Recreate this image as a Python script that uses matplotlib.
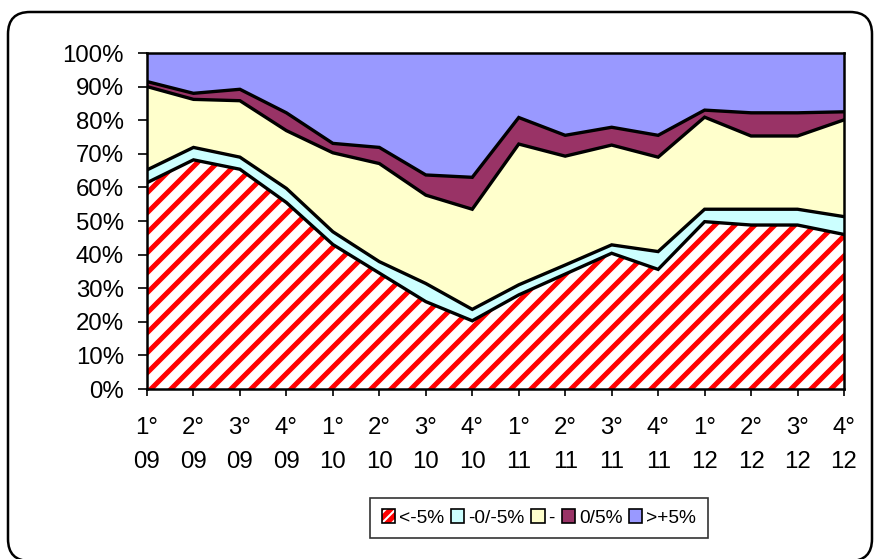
import numpy as np
import matplotlib
matplotlib.use("Agg")
import matplotlib.pyplot as plt
from matplotlib.patches import Patch, FancyBboxPatch
from matplotlib.legend_handler import HandlerTuple
from matplotlib.transforms import IdentityTransform

plt.rcParams['font.family'] = ['Liberation Sans', 'DejaVu Sans']
plt.rcParams['hatch.linewidth'] = 3.0

# quarters
labels = ['1°\n09', '2°\n09', '3°\n09', '4°\n09',
          '1°\n10', '2°\n10', '3°\n10', '4°\n10',
          '1°\n11', '2°\n11', '3°\n11', '4°\n11',
          '1°\n12', '2°\n12', '3°\n12', '4°\n12']

# share of each class (%)
neg5 = [61.4, 68.2, 65.4, 55.5, 43.0, 34.5, 26.0, 20.3, 28.0, 34.2, 40.4, 35.6, 49.8, 48.8, 48.8, 46.0]
neg0 = [3.8, 3.7, 3.6, 4.2, 3.8, 3.4, 5.4, 3.4, 3.0, 2.7, 2.5, 5.3, 3.7, 4.7, 4.7, 5.3]
zero = [24.8, 14.3, 16.8, 17.2, 23.5, 29.2, 26.3, 29.8, 41.9, 32.4, 29.7, 28.1, 27.4, 21.8, 21.8, 28.8]
pos0 = [1.5, 1.8, 3.4, 5.3, 2.8, 4.8, 6.0, 9.5, 7.9, 6.2, 5.3, 6.5, 2.1, 6.9, 6.9, 2.4]
pos5 = [8.5, 12.0, 10.8, 17.8, 26.9, 28.1, 36.3, 37.0, 19.2, 24.5, 22.1, 24.5, 17.0, 17.8, 17.8, 17.5]

names = ['<-5%', '-0/-5%', '-', '0/5%', '>+5%']
colors = ['white', '#CCFFFF', '#FFFFCC', '#993366', '#9999FF']

x = np.arange(len(labels))
series = [neg5, neg0, zero, pos0, pos5]

fig = plt.figure(figsize=(877 / 120, 559 / 120), dpi=120)
ax = fig.add_axes([147 / 877, 1 - 389 / 559, (844 - 147) / 877, (389 - 53) / 559])

polys = ax.stackplot(x, *series, colors=colors, linewidth=0)
polys[0].set_edgecolor('red')
polys[0].set_hatch('//')
polys[0].set_linewidth(0)

# black outlines of each band
cum = np.cumsum(series, axis=0)
for c in cum[:-1]:
    ax.plot(x, c, color='black', lw=2.0, solid_joinstyle='miter')

ax.set_xlim(0, len(labels) - 1)
ax.set_ylim(0, 100)
ax.set_yticks(range(0, 101, 10))
ax.set_yticklabels([f'{v}%' for v in range(0, 101, 10)])
ax.set_xticks(x)
ax.set_xticklabels(labels, linespacing=1.7)
ax.tick_params(axis='both', direction='out', width=1.0, labelsize=14.4)
ax.tick_params(axis='x', length=4.2, pad=12.5)
ax.tick_params(axis='y', length=5.4, pad=8.5)
for s in ax.spines.values():
    s.set_linewidth(1.5)
    s.set_color('black')

# legend
handles = [(Patch(facecolor='white', edgecolor='red', lw=0, hatch='////'),
            Patch(facecolor='none', edgecolor='black', lw=1.0))]
for col in colors[1:]:
    handles.append(Patch(facecolor=col, edgecolor='black', lw=1.0))
leg = fig.legend(handles, names, loc='center', bbox_to_anchor=(539 / 877, 1 - 518 / 559),
                 ncol=5, fontsize=11.5, frameon=True, fancybox=False,
                 handlelength=0.7, handleheight=0.7, handletextpad=0.2,
                 columnspacing=0.35, borderpad=0.6, borderaxespad=0,
                 handler_map={tuple: HandlerTuple(ndivide=1, pad=0)})
leg.get_frame().set_edgecolor('black')
leg.get_frame().set_linewidth(1.0)

# rounded outer border
border = FancyBboxPatch((8, -2), 864, 549, boxstyle='round,pad=0,rounding_size=22',
                        transform=IdentityTransform(), facecolor='none',
                        edgecolor='black', lw=1.5)
fig.patches.append(border)

fig.savefig('out.png', dpi=120)
